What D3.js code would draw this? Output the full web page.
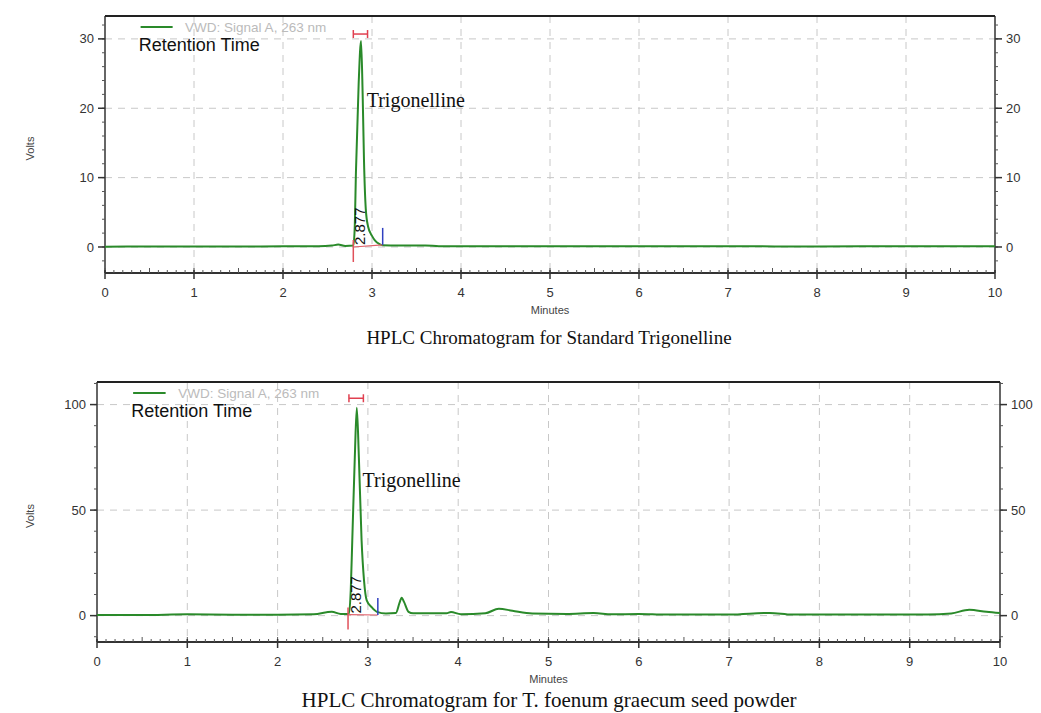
<!doctype html>
<html lang="en">
<head>
<meta charset="utf-8">
<title>HPLC Chromatograms</title>
<style>
  body { margin: 0; background: #fff; }
  svg { display: block; }
  .tick-label { font-family: "Liberation Sans", Arial, sans-serif; font-size: 13px; fill: #333; }
  .axis-title { font-family: "Liberation Sans", Arial, sans-serif; font-size: 11px; fill: #444; }
  .caption { font-family: "Liberation Serif", "Times New Roman", serif; fill: #111; }
  .peak-name { font-family: "Liberation Serif", "Times New Roman", serif; font-size: 20px; fill: #111; }
</style>
</head>
<body>
<svg width="1041" height="713"></svg>
<script src="https://d3js.org/d3.v7.min.js"></script>
<script>
// x ticks (minutes), shared by both panels
var minuteTicks = [0, 1, 2, 3, 4, 5, 6, 7, 8, 9, 10];

// panel 1: standard trigonelline, [minutes, volts]
var standardTicks = [0, 10, 20, 30];
var standardSignal = [
  [0, 0.05], [0.5, 0.06], [1, 0.08], [1.5, 0.06], [2, 0.1], [2.4, 0.1],
  [2.55, 0.2], [2.62, 0.35], [2.7, 0.15], [2.79, 0.2], [2.805, 2.5],
  [2.82, 11], [2.85, 23.5], [2.877, 29.7], [2.895, 22], [2.91, 12.5],
  [2.93, 5.5], [2.955, 3], [3.0, 1.6], [3.03, 1.0], [3.08, 0.45],
  [3.12, 0.25], [3.3, 0.2], [3.6, 0.22], [3.75, 0.12], [4, 0.1],
  [5, 0.12], [6, 0.12], [7, 0.1], [8, 0.08], [9, 0.1], [10, 0.1]
];

// panel 2: T. foenum graecum seed powder, [minutes, volts]
var seedTicks = [0, 50, 100];
var seedSignal = [
  [0, 0.3], [0.5, 0.3], [1, 0.6], [1.5, 0.4], [2, 0.4], [2.4, 0.6],
  [2.6, 1.8], [2.7, 0.8], [2.79, 0.8], [2.81, 12], [2.827, 35.7],
  [2.855, 75], [2.877, 98.5], [2.9, 75], [2.93, 35.7], [2.957, 16.7],
  [2.987, 7.2], [3.04, 4.1], [3.1, 1.8], [3.2, 1.0], [3.31, 1.2],
  [3.35, 6], [3.374, 8.5], [3.4, 6.5], [3.45, 1.8], [3.5, 1.1],
  [3.87, 1.1], [3.92, 1.7], [4.03, 0.7], [4.3, 1.1], [4.45, 3.3],
  [4.6, 2.3], [4.82, 1.0], [5.2, 0.8], [5.5, 1.2], [5.7, 0.6],
  [6.0, 0.8], [6.3, 0.5], [7.0, 0.5], [7.45, 1.3], [7.7, 0.5],
  [8.5, 0.5], [9.2, 0.5], [9.46, 1.0], [9.66, 2.8], [9.85, 1.8], [10, 1.2]
];

var peakTime = 2.877;

var panels = [
  { signal: standardSignal, yTicks: standardTicks, yMinor: 2, yDomain: [-3.75, 33.3],
    left: 105, right: 995, top: 16, bottom: 273,
    caption: "HPLC Chromatogram for Standard Trigonelline", captionY: 344, captionSize: 19,
    nameY: 107, markerTop: 30.7, startT: 2.79, endT: 3.12, startV: 0 },
  { signal: seedSignal, yTicks: seedTicks, yMinor: 10, yDomain: [-12.5, 110.7],
    left: 97, right: 1000, top: 382, bottom: 642,
    caption: "HPLC Chromatogram for T. foenum graecum seed powder", captionY: 707, captionSize: 21,
    nameY: 487, markerTop: 103, startT: 2.78, endT: 3.11, startV: 0.5 }
];

var svg = d3.select("svg");
var green = "#2a8a2a";

panels.forEach(function(p) {
  var x = d3.scaleLinear().domain([0, 10]).range([p.left, p.right]);
  var y = d3.scaleLinear().domain(p.yDomain).range([p.bottom, p.top]);
  var g = svg.append("g");

  // dashed grid
  g.selectAll(".vgrid").data(minuteTicks.slice(1, -1)).enter().append("line")
    .attr("x1", x).attr("x2", x).attr("y1", p.top).attr("y2", p.bottom)
    .attr("stroke", "#c8c8c8").attr("stroke-dasharray", "7,6");
  g.selectAll(".hgrid").data(p.yTicks).enter().append("line")
    .attr("x1", p.left).attr("x2", p.right)
    .attr("y1", function(d) { return y(d); }).attr("y2", function(d) { return y(d); })
    .attr("stroke", "#c8c8c8").attr("stroke-dasharray", "7,6");

  // minor tick values
  var yMin = Math.ceil(p.yDomain[0] / p.yMinor) * p.yMinor;
  var yMinor = d3.range(yMin, p.yDomain[1], p.yMinor);
  var xMinor = d3.range(0, 100).map(function(i) { return i / 10; });

  // left and right axes
  [["left", p.left, -1], ["right", p.right, 1]].forEach(function(a) {
    var ax = g.append("g");
    ax.append("line").attr("x1", a[1]).attr("x2", a[1]).attr("y1", p.top).attr("y2", p.bottom)
      .attr("stroke", "#333").attr("stroke-width", 1.5);
    ax.selectAll(".mn").data(yMinor).enter().append("line")
      .attr("x1", a[1]).attr("x2", a[1] + a[2] * 3)
      .attr("y1", function(d) { return y(d); }).attr("y2", function(d) { return y(d); })
      .attr("stroke", "#555");
    ax.selectAll(".mj").data(p.yTicks).enter().append("line")
      .attr("x1", a[1]).attr("x2", a[1] + a[2] * 7)
      .attr("y1", function(d) { return y(d); }).attr("y2", function(d) { return y(d); })
      .attr("stroke", "#333").attr("stroke-width", 1.5);
    ax.selectAll(".lb").data(p.yTicks).enter().append("text")
      .attr("class", "tick-label")
      .attr("x", a[1] + a[2] * 11)
      .attr("y", function(d) { return y(d); })
      .attr("dy", "0.35em")
      .attr("text-anchor", a[2] < 0 ? "end" : "start")
      .text(function(d) { return d; });
  });

  // top border
  g.append("line").attr("x1", p.left).attr("x2", p.right).attr("y1", p.top).attr("y2", p.top)
    .attr("stroke", "#222").attr("stroke-width", 2);

  // bottom axis
  g.append("line").attr("x1", p.left).attr("x2", p.right).attr("y1", p.bottom).attr("y2", p.bottom)
    .attr("stroke", "#333").attr("stroke-width", 2);
  g.selectAll(".xmn").data(xMinor).enter().append("line")
    .attr("x1", x).attr("x2", x)
    .attr("y1", p.bottom)
    .attr("y2", function(d, i) { return p.bottom - (i % 5 === 0 ? 5 : 3); })
    .attr("stroke", "#555");
  g.selectAll(".xmj").data(minuteTicks).enter().append("line")
    .attr("x1", x).attr("x2", x).attr("y1", p.bottom - 3).attr("y2", p.bottom + 6)
    .attr("stroke", "#333").attr("stroke-width", 1.5);
  g.selectAll(".xlb").data(minuteTicks).enter().append("text")
    .attr("class", "tick-label")
    .attr("x", x).attr("y", p.bottom + 24)
    .attr("text-anchor", "middle")
    .text(function(d) { return d; });

  g.append("text").attr("class", "axis-title")
    .attr("x", (x(5))).attr("y", p.bottom + 41)
    .attr("text-anchor", "middle").text("Minutes");
  g.append("text").attr("class", "axis-title")
    .attr("transform", "translate(34," + ((p.top + p.bottom) / 2 + 4) + ") rotate(-90)")
    .attr("text-anchor", "middle").text("Volts");
  g.append("text").attr("class", "caption")
    .attr("x", 549).attr("y", p.captionY)
    .attr("font-size", p.captionSize)
    .attr("text-anchor", "middle").text(p.caption);

  // signal trace
  var line = d3.line()
    .x(function(d) { return x(d[0]); })
    .y(function(d) { return y(d[1]); })
    .curve(d3.curveMonotoneX);
  g.append("path").datum(p.signal)
    .attr("fill", "none").attr("stroke", green).attr("stroke-width", 2)
    .attr("d", line);

  // integration marks
  var sx = x(p.startT), ex = x(p.endT), by = y(p.startV);
  g.append("line").attr("x1", sx).attr("x2", sx).attr("y1", by - 7).attr("y2", by + 15)
    .attr("stroke", "#e0505a").attr("stroke-width", 1.5);
  g.append("line").attr("x1", sx).attr("x2", ex).attr("y1", by).attr("y2", y(0.3))
    .attr("stroke", "#e0606a").attr("stroke-width", 1.2);
  g.append("line").attr("x1", ex).attr("x2", ex).attr("y1", y(0.3)).attr("y2", y(0.3) - 17)
    .attr("stroke", "#3040c0").attr("stroke-width", 1.5);

  // peak width marker
  var my = y(p.markerTop), mx1 = x(2.79), mx2 = x(2.95);
  g.append("line").attr("x1", mx1).attr("x2", mx2).attr("y1", my).attr("y2", my)
    .attr("stroke", "#e04050").attr("stroke-width", 1.5);
  [mx1, mx2].forEach(function(v) {
    g.append("line").attr("x1", v).attr("x2", v).attr("y1", my - 4).attr("y2", my + 4)
      .attr("stroke", "#e04050").attr("stroke-width", 1.5);
  });

  // retention time label
  g.append("text")
    .attr("transform", "translate(" + (x(peakTime) + 4) + "," + (y(0) - 2) + ") rotate(-90)")
    .attr("font-family", "Liberation Sans, Arial, sans-serif").attr("font-size", 15)
    .attr("fill", "#111").text("2.877");

  // legend
  g.append("line").attr("x1", x(0.4)).attr("x2", x(0.76))
    .attr("y1", p.top + 11).attr("y2", p.top + 11)
    .attr("stroke", green).attr("stroke-width", 2);
  g.append("text").attr("x", x(0.9)).attr("y", p.top + 16)
    .attr("font-family", "Liberation Sans, Arial, sans-serif").attr("font-size", 13.5)
    .attr("fill", "#bbb").text("VWD: Signal A, 263 nm");
  g.append("text").attr("x", x(0.38)).attr("y", p.top + 35)
    .attr("font-family", "Liberation Sans, Arial, sans-serif").attr("font-size", 18)
    .attr("fill", "#111").text("Retention Time");

  g.append("text").attr("class", "peak-name")
    .attr("x", x(2.94)).attr("y", p.nameY)
    .text("Trigonelline");
});
</script>
</body>
</html>
